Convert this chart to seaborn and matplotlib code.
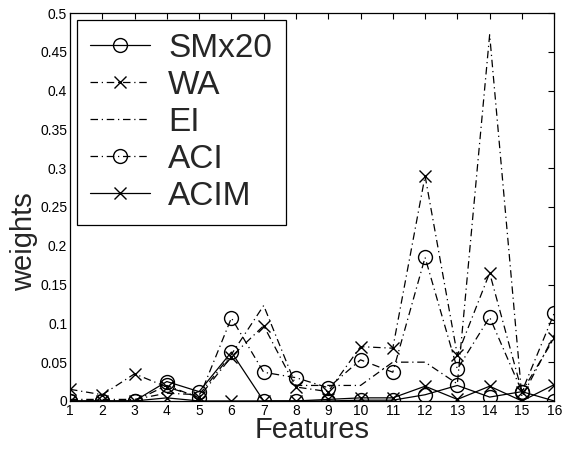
import numpy as np
import pandas as pd
import seaborn as sns
import matplotlib.pyplot as plt

features = list(range(1, 17))
smx20 = [0, 0, 0, 0.025, 0.012, 0.063, 0, 0, 0, 0.001, 0.001, 0.008, 0.020, 0.005, 0.012, 0]
wa = [0.015, 0.008, 0.035, 0.018, 0.005, 0.057, 0.097, 0.018, 0.012, 0.070, 0.068, 0.290, 0.059, 0.165, 0.012, 0.081]
ei = [0.002, 0.002, 0.002, 0.010, 0.008, 0.060, 0.123, 0.020, 0.020, 0.020, 0.050, 0.050, 0.022, 0.472, 0.005, 0.085]
aci = [0, 0, 0, 0.020, 0.004, 0.107, 0.037, 0.030, 0.017, 0.053, 0.037, 0.185, 0.041, 0.108, 0.012, 0.113]
acim = [0, 0, 0, 0.004, 0, 0, 0, 0, 0.002, 0.004, 0.004, 0.019, 0.002, 0.019, 0, 0.021]

names = ["SMx20", "WA", "EI", "ACI", "ACIM"]
series = [smx20, wa, ei, aci, acim]

df = pd.DataFrame({
    "feature": np.tile(features, len(names)),
    "weight": np.concatenate(series),
    "method": np.repeat(names, len(features)),
})

sns.set_theme(style="white")
plt.rcParams["font.family"] = ["Liberation Sans", "DejaVu Sans"]

styles = {
    "SMx20": dict(marker="o", dashes=(None, None)),
    "WA": dict(marker="x", dashes=(6, 3, 1, 3)),
    "EI": dict(marker=None, dashes=(6, 3, 1, 3)),
    "ACI": dict(marker="o", dashes=(6, 3, 1, 3)),
    "ACIM": dict(marker="x", dashes=(None, None)),
}

fig = plt.figure(figsize=(5.69, 4.49), dpi=100)
ax = fig.add_axes([0.123, 0.107, 0.851, 0.864])

for name in names:
    st = styles[name]
    sub = df[df["method"] == name]
    sns.lineplot(data=sub, x="feature", y="weight", ax=ax, color="black",
                 linewidth=0.9, marker=st["marker"], markersize=10 if st["marker"] == "o" else 8,
                 markerfacecolor="none", markeredgecolor="black", markeredgewidth=1.0,
                 label=name, legend=False)
    ln = ax.lines[-1]
    if st["dashes"][0] is not None:
        ln.set_dashes(st["dashes"])

ax.set_xlim(1, 16)
ax.set_ylim(0, 0.5)
ax.set_xticks(features)
ax.set_yticks(np.arange(0, 0.51, 0.05))
ax.set_yticklabels(["0", "0.05", "0.1", "0.15", "0.2", "0.25", "0.3", "0.35", "0.4", "0.45", "0.5"])
ax.tick_params(direction="in", length=4, width=0.8, top=True, right=True,
               labelsize=10, colors="black", pad=2)
for sp in ax.spines.values():
    sp.set_color("black")
    sp.set_linewidth(0.9)
ax.set_xlabel("Features", fontsize=21, labelpad=-1)
ax.set_ylabel("weights", fontsize=21)
ax.yaxis.set_label_coords(-0.066, 0.41)

leg = ax.legend(handles=ax.lines[:5], labels=names, loc="upper left", fontsize=24,
                frameon=True, fancybox=False, edgecolor="black", framealpha=1,
                handlelength=1.8, borderaxespad=0.2, borderpad=0.4,
                labelspacing=0.18, handletextpad=0.55)
leg.get_frame().set_linewidth(0.9)

fig.savefig("out.png", dpi=100)
